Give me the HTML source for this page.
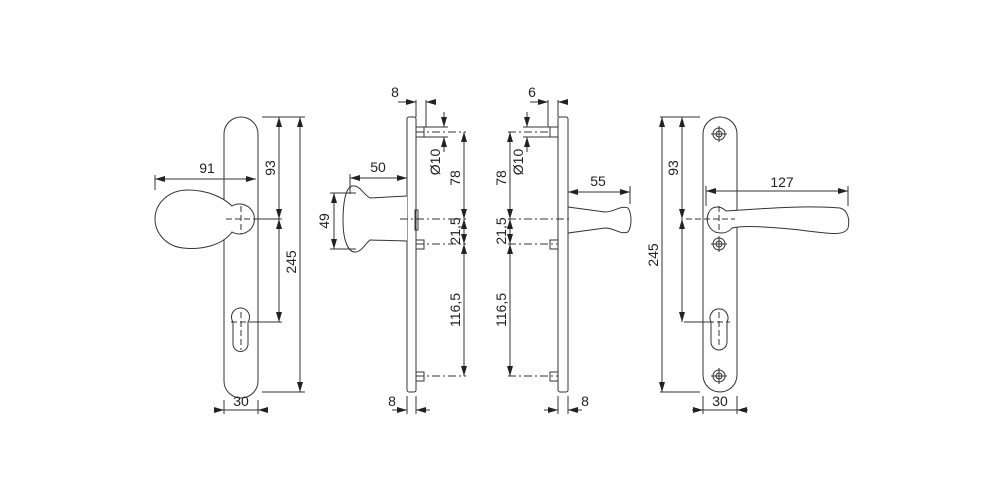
<!DOCTYPE html>
<html><head><meta charset="utf-8"><style>
html,body{margin:0;padding:0;background:#fff;}
svg{display:block;}
text{font-family:"Liberation Sans",sans-serif;font-size:14px;fill:#222;}
</style></head><body>
<svg width="1000" height="500" viewBox="0 0 1000 500" xmlns="http://www.w3.org/2000/svg">
<defs>
<marker id="a" viewBox="0 0 10 6" refX="10" refY="3" markerWidth="10" markerHeight="6" orient="auto-start-reverse" markerUnits="userSpaceOnUse"><path d="M0,0L10,3L0,6z" fill="#222"/></marker>
</defs>
<g fill="none" stroke="#333" stroke-width="1">
<!-- Panel 1 -->
<rect x="224" y="117" width="34" height="281" rx="17"/>
<path d="M232,206 A15,15 0 1 1 232,232 C222,246 200,250 183,248 C165,246 155,232 155,219 C155,204 168,190 188,190 C208,190 224,198 232,206 Z" fill="#fff"/>
<path d="M233,322 a9,9 0 1 1 15,0 v22 a4,4 0 0 1 -15,0 z" />
<g stroke-dasharray="6,3"><line x1="226" y1="219" x2="258" y2="219"/><line x1="241" y1="206" x2="241" y2="234"/><line x1="231" y1="322" x2="252" y2="322"/><line x1="241" y1="312" x2="241" y2="350"/></g>
<line x1="258" y1="219" x2="282" y2="219"/><line x1="252" y1="322" x2="282" y2="322"/>
<line x1="262" y1="117" x2="305" y2="117"/><line x1="262" y1="392" x2="305" y2="392"/>
<line x1="155" y1="175" x2="155" y2="190"/>
<line x1="155" y1="179" x2="256" y2="179" marker-start="url(#a)" marker-end="url(#a)"/>
<line x1="279" y1="117" x2="279" y2="219" marker-start="url(#a)" marker-end="url(#a)"/>
<line x1="279" y1="219" x2="279" y2="322" marker-start="url(#a)" marker-end="url(#a)"/>
<line x1="300" y1="117" x2="300" y2="392" marker-start="url(#a)" marker-end="url(#a)"/>
<line x1="224" y1="400" x2="224" y2="414"/><line x1="258" y1="400" x2="258" y2="414"/>
<line x1="214" y1="410" x2="224" y2="410" marker-end="url(#a)"/><line x1="224" y1="410" x2="258" y2="410"/><line x1="268" y1="410" x2="258" y2="410" marker-end="url(#a)"/>

<!-- Panel 2 -->
<rect x="407" y="117" width="9" height="275" rx="2"/>
<path d="M407,196 L370,198 C362,193 360,185 352,186 C345,188 343,205 343,221 C343,240 348,253 356,252 C362,251 364,245 370,240 L407,241" fill="#fff"/>
<rect x="416" y="127" width="8" height="10"/><rect x="416" y="240" width="8" height="9"/><rect x="416" y="372" width="8" height="9"/>
<rect x="415" y="210" width="3" height="20"/>
<line x1="416" y1="100" x2="416" y2="117"/><line x1="426" y1="100" x2="426" y2="127"/>
<line x1="398" y1="102" x2="416" y2="102" marker-end="url(#a)"/><line x1="436" y1="102" x2="426" y2="102" marker-end="url(#a)"/>
<line x1="424" y1="127" x2="448" y2="127"/><line x1="424" y1="137" x2="448" y2="137"/>
<line x1="444" y1="112" x2="444" y2="127" marker-end="url(#a)"/><line x1="444" y1="152" x2="444" y2="137" marker-end="url(#a)"/>
<g stroke-dasharray="8,3,2,3"><line x1="400" y1="219" x2="466" y2="219"/><line x1="416" y1="244" x2="466" y2="244"/><line x1="416" y1="376" x2="466" y2="376"/><line x1="416" y1="132" x2="466" y2="132"/></g>
<line x1="464" y1="132" x2="464" y2="219" marker-start="url(#a)" marker-end="url(#a)"/>
<line x1="464" y1="219" x2="464" y2="244" marker-start="url(#a)" marker-end="url(#a)"/>
<line x1="464" y1="244" x2="464" y2="376" marker-start="url(#a)" marker-end="url(#a)"/>
<line x1="350" y1="174" x2="350" y2="194"/>
<line x1="350" y1="178" x2="407" y2="178" marker-start="url(#a)" marker-end="url(#a)"/>
<line x1="330" y1="193" x2="356" y2="193"/><line x1="330" y1="249" x2="356" y2="249"/>
<line x1="334" y1="193" x2="334" y2="249" marker-start="url(#a)" marker-end="url(#a)"/>
<line x1="407" y1="396" x2="407" y2="414"/><line x1="416" y1="396" x2="416" y2="414"/>
<line x1="392" y1="410" x2="407" y2="410" marker-end="url(#a)"/><line x1="430" y1="410" x2="416" y2="410" marker-end="url(#a)"/>

<!-- Panel 3 -->
<rect x="558" y="117" width="10" height="275" rx="2"/>
<path d="M568,207 L605,212 C615,212 620,205 628,208 C632,214 632,226 628,232 C620,235 615,228 605,228 L568,233 Z" fill="#fff"/>
<rect x="550" y="127" width="8" height="10"/><rect x="550" y="240" width="8" height="9"/><rect x="550" y="372" width="8" height="9"/>
<line x1="548" y1="100" x2="548" y2="127"/><line x1="558" y1="100" x2="558" y2="117"/>
<line x1="530" y1="102" x2="548" y2="102" marker-end="url(#a)"/><line x1="568" y1="102" x2="558" y2="102" marker-end="url(#a)"/>
<line x1="523" y1="127" x2="550" y2="127"/><line x1="523" y1="137" x2="550" y2="137"/>
<line x1="527" y1="112" x2="527" y2="127" marker-end="url(#a)"/><line x1="527" y1="152" x2="527" y2="137" marker-end="url(#a)"/>
<g stroke-dasharray="8,3,2,3"><line x1="508" y1="219" x2="570" y2="219"/><line x1="508" y1="244" x2="558" y2="244"/><line x1="508" y1="376" x2="558" y2="376"/><line x1="508" y1="132" x2="550" y2="132"/></g>
<line x1="510" y1="132" x2="510" y2="219" marker-start="url(#a)" marker-end="url(#a)"/>
<line x1="510" y1="219" x2="510" y2="244" marker-start="url(#a)" marker-end="url(#a)"/>
<line x1="510" y1="244" x2="510" y2="376" marker-start="url(#a)" marker-end="url(#a)"/>
<line x1="630" y1="186" x2="630" y2="204"/>
<line x1="568" y1="192" x2="630" y2="192" marker-start="url(#a)" marker-end="url(#a)"/>
<line x1="558" y1="396" x2="558" y2="414"/><line x1="568" y1="396" x2="568" y2="414"/>
<line x1="544" y1="410" x2="558" y2="410" marker-end="url(#a)"/><line x1="582" y1="410" x2="568" y2="410" marker-end="url(#a)"/>

<!-- Panel 4 -->
<rect x="703" y="117" width="34" height="275" rx="17"/>
<g><circle cx="719" cy="134" r="6"/><circle cx="719" cy="134" r="3"/><line x1="711" y1="134" x2="727" y2="134"/><line x1="719" y1="126" x2="719" y2="142"/></g>
<g><circle cx="719" cy="244" r="6"/><circle cx="719" cy="244" r="3"/><line x1="711" y1="244" x2="727" y2="244"/><line x1="719" y1="236" x2="719" y2="252"/></g>
<g><circle cx="719" cy="376" r="6"/><circle cx="719" cy="376" r="3"/><line x1="711" y1="376" x2="727" y2="376"/><line x1="719" y1="368" x2="719" y2="384"/></g>
<path d="M726,211 C760,209 800,205 840,208 C848,210 850,220 848,228 C845,236 830,234 800,230 C770,227 745,225 732,228 C728,233 722,234 715,232 C708,228 705,220 709,212 C712,206 720,205 726,211 Z" fill="#fff"/>
<path d="M711,322 a9,9 0 1 1 16,0 v20 a5,5 0 0 1 -16,0 z"/>
<g stroke-dasharray="6,3"><line x1="686" y1="219" x2="735" y2="219"/><line x1="719" y1="206" x2="719" y2="232"/><line x1="719" y1="312" x2="719" y2="348"/><line x1="708" y1="322" x2="730" y2="322"/></g>
<line x1="684" y1="322" x2="708" y2="322"/>
<line x1="660" y1="117" x2="700" y2="117"/><line x1="660" y1="392" x2="700" y2="392"/>
<line x1="682" y1="117" x2="682" y2="219" marker-start="url(#a)" marker-end="url(#a)"/>
<line x1="682" y1="219" x2="682" y2="322" marker-start="url(#a)" marker-end="url(#a)"/>
<line x1="662" y1="117" x2="662" y2="392" marker-start="url(#a)" marker-end="url(#a)"/>
<line x1="706" y1="186" x2="706" y2="206"/><line x1="848" y1="186" x2="848" y2="206"/>
<line x1="706" y1="191" x2="848" y2="191" marker-start="url(#a)" marker-end="url(#a)"/>
<line x1="703" y1="396" x2="703" y2="414"/><line x1="737" y1="396" x2="737" y2="414"/>
<line x1="692" y1="410" x2="703" y2="410" marker-end="url(#a)"/><line x1="703" y1="410" x2="737" y2="410"/><line x1="748" y1="410" x2="737" y2="410" marker-end="url(#a)"/>
</g>
<!-- labels -->
<text x="207" y="173" text-anchor="middle">91</text>
<text transform="translate(275,168) rotate(-90)" text-anchor="middle">93</text>
<text transform="translate(296,262) rotate(-90)" text-anchor="middle">245</text>
<text x="241" y="406" text-anchor="middle">30</text>
<text x="395" y="97" text-anchor="middle">8</text>
<text transform="translate(440,162) rotate(-90)" text-anchor="middle">Ø10</text>
<text transform="translate(460,178) rotate(-90)" text-anchor="middle">78</text>
<text transform="translate(460,231) rotate(-90)" text-anchor="middle">21,5</text>
<text transform="translate(460,310) rotate(-90)" text-anchor="middle">116,5</text>
<text x="378" y="172" text-anchor="middle">50</text>
<text transform="translate(329,221) rotate(-90)" text-anchor="middle">49</text>
<text x="392" y="406" text-anchor="middle">8</text>
<text x="532" y="97" text-anchor="middle">6</text>
<text transform="translate(523,162) rotate(-90)" text-anchor="middle">Ø10</text>
<text transform="translate(506,178) rotate(-90)" text-anchor="middle">78</text>
<text transform="translate(506,231) rotate(-90)" text-anchor="middle">21,5</text>
<text transform="translate(506,310) rotate(-90)" text-anchor="middle">116,5</text>
<text x="598" y="186" text-anchor="middle">55</text>
<text x="585" y="406" text-anchor="middle">8</text>
<text x="782" y="187" text-anchor="middle">127</text>
<text transform="translate(678,168) rotate(-90)" text-anchor="middle">93</text>
<text transform="translate(658,255) rotate(-90)" text-anchor="middle">245</text>
<text x="720" y="406" text-anchor="middle">30</text>
</svg>
</body></html>
